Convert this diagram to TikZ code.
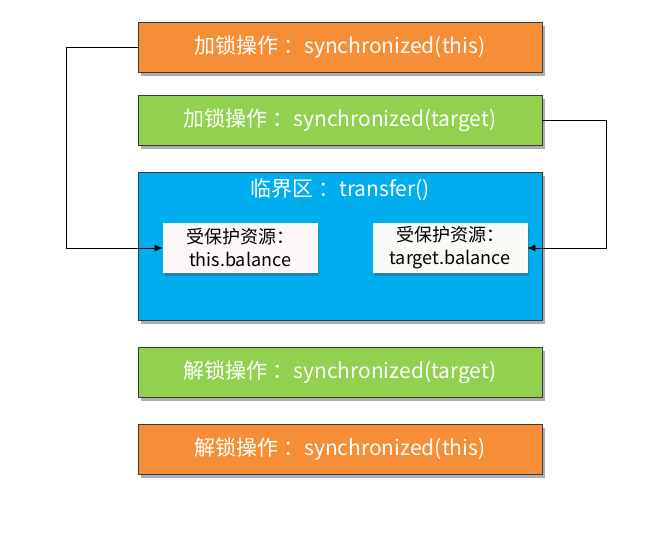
\documentclass[tikz,border=0pt]{standalone}
\usepackage{fontspec}
\setmainfont{Noto Sans CJK SC}
\usetikzlibrary{shadows,arrows.meta}
\definecolor{lockorange}{HTML}{F58E37}
\definecolor{lockgreen}{HTML}{92D050}
\definecolor{zoneblue}{HTML}{00AEEF}
\definecolor{edge}{HTML}{3A3A3A}
\definecolor{pinkish}{HTML}{FDF7F7}
\definecolor{greenish}{HTML}{F8FBF6}
\begin{document}
\begin{tikzpicture}[x=1pt,y=-1pt,
  opbox/.style={draw=edge,line width=0.9pt,minimum width=404pt,minimum height=50pt,
    text=white,font=\fontsize{21}{24}\selectfont,
    drop shadow={shadow xshift=3pt,shadow yshift=-4pt,opacity=0.45,fill=black!70}},
  resbox/.style={draw=white,line width=0.6pt,minimum width=154pt,minimum height=49pt,
    align=center,font=\fontsize{18}{23}\selectfont,inner sep=1pt,
    drop shadow={shadow xshift=2pt,shadow yshift=-3pt,opacity=0.4,fill=black!70}},
  link/.style={draw=black,line width=0.8pt},
  arr/.style={link,-{Latex[length=8pt,width=7pt]}}]
  \useasboundingbox (0,0) rectangle (655,541);
  % lock and unlock operations
  \node[opbox,fill=lockorange] (lockthis) at (340,47) {加锁操作 ：synchronized(this)};
  \node[opbox,fill=lockgreen] (locktarget) at (340,120) {加锁操作 ：synchronized(target)};
  % critical section
  \node[opbox,fill=zoneblue,minimum height=148pt,anchor=north] (cs) at (340,172) {};
  \node[text=white,font=\fontsize{21}{24}\selectfont] (cstitle) at (340,190) {临界区 ：transfer()};
  \node[resbox,fill=pinkish] (resthis) at (240,248) {受保护资源：\\this.balance};
  \node[resbox,fill=greenish] (restarget) at (450,248) {受保护资源：\\target.balance};
  \node[opbox,fill=lockgreen] (unlocktarget) at (340,372) {解锁操作 ：synchronized(target)};
  \node[opbox,fill=lockorange] (unlockthis) at (340,449) {解锁操作 ：synchronized(this)};
  % which lock guards which resource
  \coordinate (lbend1) at (66,47);
  \coordinate (lbend2) at (66,248);
  \coordinate (rbend1) at (606,120);
  \coordinate (rbend2) at (606,248);
  \draw[arr] (lockthis.west) -- (lbend1) -- (lbend2) -- (resthis.west);
  \draw[arr] (locktarget.east) -- (rbend1) -- (rbend2) -- (restarget.east);
\end{tikzpicture}
\end{document}
